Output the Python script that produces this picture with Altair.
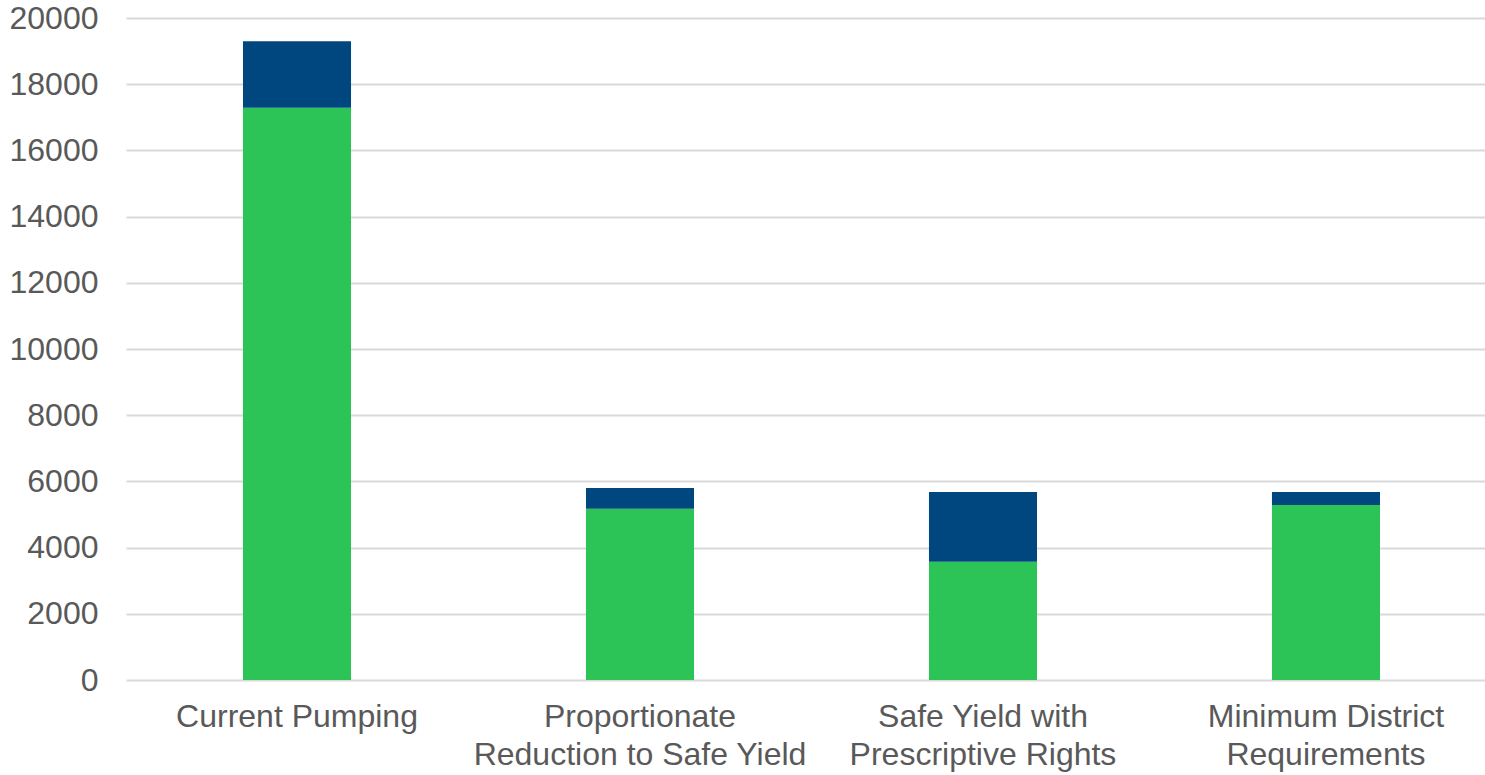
import altair as alt
import pandas as pd

categories = ["Current Pumping", "Proportionate|Reduction to Safe Yield",
              "Safe Yield with|Prescriptive Rights", "Minimum District|Requirements"]
series_names = ["Lower", "Upper"]
lower_values = [17290, 5170, 3570, 5290]
upper_values = [2010, 630, 2110, 390]
y_ticks = [0, 2000, 4000, 6000, 8000, 10000, 12000, 14000, 16000, 18000, 20000]
colors = ["#2cc457", "#00477f"]

rows = []
for c, lo, up in zip(categories, lower_values, upper_values):
    rows.append({"category": c, "series": series_names[0], "value": lo, "ord": 0})
    rows.append({"category": c, "series": series_names[1], "value": up, "ord": 1})
df = pd.DataFrame(rows)

font = "Liberation Sans"
chart = alt.Chart(df).mark_bar().encode(
    x=alt.X("category:N", sort=categories, title=None,
            scale=alt.Scale(paddingInner=0.685, paddingOuter=0.3236, align=0.527),
            axis=alt.Axis(labelExpr="split(datum.label, '|')", labelAngle=0,
                          labelFont=font, labelFontSize=32, labelColor="#595959",
                          labelPadding=21, labelLineHeight=38, ticks=False,
                          labelLimit=600, labelOverlap=False,
                          domain=False, grid=False, labelBaseline="top")),
    y=alt.Y("value:Q", stack="zero", title=None,
            scale=alt.Scale(domain=[0, 20000], nice=False),
            axis=alt.Axis(values=y_ticks, labelFont=font, labelFontSize=32,
                          labelColor="#595959", labelPadding=28, ticks=False,
                          domain=False, gridColor="#d9d9d9", gridWidth=2,
                          format="d")),
    color=alt.Color("series:N", scale=alt.Scale(domain=series_names, range=colors),
                    legend=None),
    order=alt.Order("ord:Q"),
).properties(
    width=1359, height=662,
    autosize=alt.AutoSizeParams(type="none"),
    padding={"left": 126, "top": 18, "right": 0, "bottom": 95},
).configure(background="white").configure_view(stroke=None)

chart.save("out.html", embed_options={"renderer": "svg", "actions": False})
